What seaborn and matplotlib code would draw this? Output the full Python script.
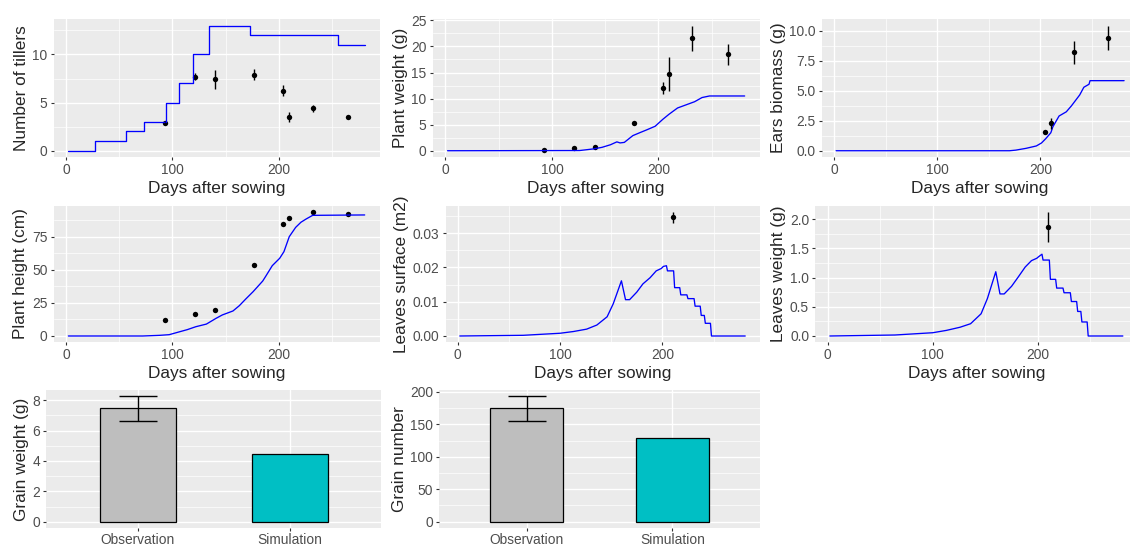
#################################################################################################
#   Required Header Files
#################################################################################################
import matplotlib
matplotlib.use("Agg")
import matplotlib.pyplot as plt
from matplotlib.ticker import MultipleLocator, FormatStrFormatter
import seaborn as sns

#################################################################################################
#   Data
#################################################################################################
ObsDays = [93, 121, 140, 177, 204, 210, 232, 265]

TillersObs = [2.85, 7.7, 7.4, 7.9, 6.25, 3.5, 4.4, 3.5]
TillersErr = [0.1, 0.4, 1.0, 0.55, 0.6, 0.5, 0.4, 0.15]
TillersSimDays = [2, 27, 56, 73, 94, 106, 119, 134, 173, 256, 281]
TillersSim = [0, 1, 2, 3, 5, 7, 10, 13, 12, 11, 11]

WeightObs = [0.1, 0.5, 0.77, 5.36, 12.06, 14.67, 21.6, 18.5]
WeightErr = [0.0, 0.0, 0.0, 0.0, 1.1, 3.3, 2.4, 2.05]
WeightSimDays = [2, 126, 139, 147, 155, 161, 164, 168, 176, 183, 189, 197, 204, 210, 218,
                 226, 234, 241, 248, 281]
WeightSim = [0, 0.04, 0.35, 0.65, 1.15, 1.7, 1.5, 1.6, 2.9, 3.5, 4.0, 4.7, 6.0, 7.0, 8.2,
             8.8, 9.4, 10.2, 10.5, 10.5]

EarsDays = [204, 210, 232, 265]
EarsObs = [1.53, 2.28, 8.22, 9.45]
EarsErr = [0.0, 0.45, 0.95, 1.0]
EarsSimDays = [2, 170, 176, 186, 196, 201, 205, 210, 212, 218, 225, 230, 238, 242, 247, 248, 281]
EarsSim = [0, 0, 0.05, 0.2, 0.4, 0.65, 1.0, 1.5, 2.0, 2.9, 3.25, 3.75, 4.66, 5.3, 5.55, 5.85, 5.85]

HeightObs = [12.1, 16.9, 19.4, 53.4, 84.3, 89.4, 93.7, 92.1]
HeightErr = [0, 0, 0, 0, 0, 0, 0, 0]
HeightSimDays = [2, 72, 88, 97, 105, 114, 122, 132, 141, 147, 157, 163, 169, 176, 185, 188,
                 194, 201, 205, 210, 216, 221, 226, 232, 281]
HeightSim = [0, 0, 0.5, 1, 2.8, 4.8, 7, 9, 13.3, 15.9, 18.9, 22.9, 27.9, 33.5, 41.5, 45.3,
             53.1, 58.7, 63.7, 75, 82, 85.9, 88.4, 91.1, 91.4]

LeafDays = [210]
SurfaceObs = [0.0346]
SurfaceErr = [0.0016]
LeafSimDays = [2, 64, 100, 113, 126, 136, 146, 152, 160, 164, 168, 175, 181, 188, 194, 199,
               201, 204, 205, 211, 212, 217, 218, 224, 225, 231, 232, 237, 238, 241, 242,
               247, 248, 281]
SurfaceSim = [0, 0.0002, 0.0008, 0.0013, 0.002, 0.0032, 0.0056, 0.0094, 0.0161, 0.0106,
              0.0106, 0.0128, 0.0152, 0.017, 0.019, 0.0197, 0.0203, 0.0205, 0.019, 0.019,
              0.0141, 0.0141, 0.012, 0.012, 0.0109, 0.0109, 0.0087, 0.0087, 0.006, 0.006,
              0.0037, 0.0037, 0, 0]

LeafWeightObs = [1.864]
LeafWeightErr = [0.26]
LeafWeightSim = [0, 0.017, 0.056, 0.096, 0.15, 0.21, 0.38, 0.64, 1.1, 0.72, 0.72, 0.85,
                 1.0, 1.18, 1.29, 1.33, 1.36, 1.40, 1.30, 1.30, 0.97, 0.97, 0.82, 0.82,
                 0.74, 0.74, 0.59, 0.59, 0.42, 0.42, 0.24, 0.24, 0, 0]

GrainCats = ["Observation", "Simulation"]
GrainWeight = [7.46, 4.45]
GrainWeightErr = 0.8
GrainNumber = [174.4, 128.7]
GrainNumberErr = 18.7

#################################################################################################
#   Style
#################################################################################################
W, H = 1130, 545
BG = "#EBEBEB"
TickColor = "#4D4D4D"
TitleSize = 12.4
TickSize = 9.9


def rect(l, t, r, b):
    return [l / W, 1 - b / H, (r - l) / W, (b - t) / H]


def expand(lo, hi, frac=0.05):
    span = hi - lo
    return lo - frac * span, hi + frac * span


def style_axes(ax, ystep, yfmt, xstep=None):
    ax.set_facecolor(BG)
    for s in ax.spines.values():
        s.set_visible(False)
    ax.yaxis.set_major_locator(MultipleLocator(ystep))
    ax.yaxis.set_minor_locator(MultipleLocator(ystep / 2))
    ax.yaxis.set_major_formatter(FormatStrFormatter(yfmt))
    if xstep is not None:
        ax.xaxis.set_major_locator(MultipleLocator(xstep))
        ax.xaxis.set_minor_locator(MultipleLocator(xstep / 2))
    ax.grid(which="major", color="white", linewidth=1.0)
    ax.grid(which="minor", color="white", linewidth=0.5)
    ax.set_axisbelow(True)
    ax.tick_params(which="major", length=2.4, width=0.8, color="#333333",
                   labelsize=TickSize, labelcolor=TickColor, pad=2,
                   bottom=True, left=True)
    ax.tick_params(which="minor", length=0)


def line_panel(fig, box, simx, simy, obsx, obsy, obserr, ylabel, ystep, yfmt, steps=False):
    ax = fig.add_axes(rect(*box))
    kw = {"drawstyle": "steps-post"} if steps else {}
    sns.lineplot(x=simx, y=simy, ax=ax, color="#0000FF", linewidth=0.95, sort=False, **kw)
    ax.errorbar(obsx, obsy, yerr=obserr, fmt="none", ecolor="black", elinewidth=1.0, capsize=0)
    sns.scatterplot(x=obsx, y=obsy, ax=ax, color="black", s=15, linewidth=0)
    lo = min(min(simy), min(o - e for o, e in zip(obsy, obserr)))
    hi = max(max(simy), max(o + e for o, e in zip(obsy, obserr)))
    ax.set_ylim(*expand(lo, hi))
    ax.set_xlim(*expand(min(simx + obsx), max(simx + obsx)))
    style_axes(ax, ystep, yfmt, xstep=100)
    ax.set_xlabel("Days after sowing", fontsize=TitleSize, labelpad=2.5)
    ax.set_ylabel(ylabel, fontsize=TitleSize, labelpad=2.5)
    return ax


def bar_panel(fig, box, values, err, ylabel, ystep):
    ax = fig.add_axes(rect(*box))
    sns.barplot(x=GrainCats, y=values, ax=ax, palette=["#BEBEBE", "#00BFC4"],
                hue=GrainCats, legend=False, width=0.5, edgecolor="black",
                linewidth=0.9, errorbar=None, saturation=1)
    ax.errorbar([0], [values[0]], yerr=[err], fmt="none", ecolor="black",
                elinewidth=1.0, capsize=13.5, capthick=1.0)
    ax.set_xlim(-0.6, 1.6)
    ax.set_ylim(*expand(0, max(values[0] + err, values[1])))
    style_axes(ax, ystep, "%d")
    ax.grid(which="major", axis="x", color="white", linewidth=1.0)
    ax.tick_params(axis="x", pad=1)
    ax.set_xlabel("")
    ax.set_ylabel(ylabel, fontsize=TitleSize, labelpad=2.5)
    return ax


#################################################################################################
#   Entry Point Function
#################################################################################################
def main():
    sns.set_theme(style="darkgrid")
    plt.rcParams["font.family"] = ["Liberation Sans", "DejaVu Sans"]

    fig = plt.figure(figsize=(W / 100, H / 100), dpi=100)

    line_panel(fig, (53.5, 19.3, 379.5, 157), TillersSimDays, TillersSim, ObsDays,
               TillersObs, TillersErr, "Number of tillers", 5, "%d", steps=True)
    line_panel(fig, (432.7, 19.3, 759.5, 157), WeightSimDays, WeightSim, ObsDays,
               WeightObs, WeightErr, "Plant weight (g)", 5, "%d")
    line_panel(fig, (821.7, 19.3, 1138.5, 157), EarsSimDays, EarsSim, EarsDays,
               EarsObs, EarsErr, "Ears biomass (g)", 2.5, "%.1f")

    line_panel(fig, (53.5, 205.7, 379.5, 342.2), HeightSimDays, HeightSim, ObsDays,
               HeightObs, HeightErr, "Plant height (cm)", 25, "%d")
    line_panel(fig, (445.5, 205.7, 759.5, 342.2), LeafSimDays, SurfaceSim, LeafDays,
               SurfaceObs, SurfaceErr, "Leaves surface (m2)", 0.01, "%.2f")
    line_panel(fig, (815.2, 205.7, 1137.5, 342.2), LeafSimDays, LeafWeightSim, LeafDays,
               LeafWeightObs, LeafWeightErr, "Leaves weight (g)", 0.5, "%.1f")

    bar_panel(fig, (46.3, 390, 381.4, 528), GrainWeight, GrainWeightErr, "Grain weight (g)", 2)
    bar_panel(fig, (439.3, 390, 759.7, 528), GrainNumber, GrainNumberErr, "Grain number", 50)

    fig.savefig("out.png", dpi=100, facecolor="white")
    print("Figure saved to out.png")


#################################################################################################
#   Starter
#################################################################################################
if __name__ == "__main__":
    main()
